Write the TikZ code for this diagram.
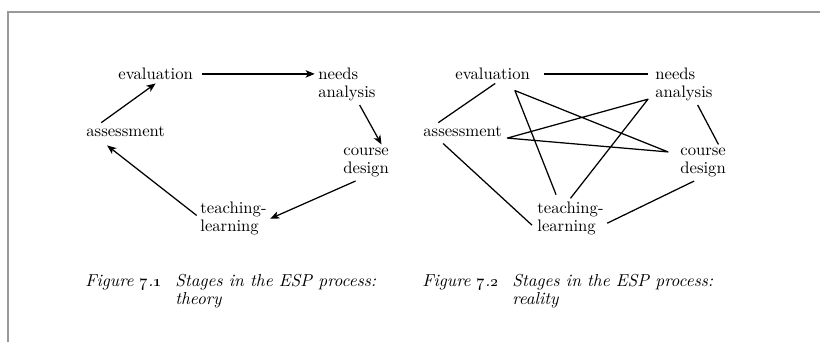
\documentclass[tikz,border=0pt]{standalone}
\usetikzlibrary{arrows.meta,calc}

\begin{document}
\begin{tikzpicture}
[x=0.6pt,y=-0.6pt,
  stageDecorate/.style={anchor=base west,align=left,inner sep=2pt,font=\fontsize{10}{11}\selectfont},
  arrowDecorate/.style={-{Stealth[length=5.5pt,width=4.5pt,inset=1.5pt]},line width=0.75pt},
  lineDecorate/.style={-,line width=0.75pt,line join=round},
  captionDecorate/.style={anchor=base west,inner sep=0pt,font=\fontsize{10.4}{10.5}\selectfont\itshape},
  frameDecorate/.style={draw=black!40,line width=0.9pt}]
\useasboundingbox (0,0) rectangle (820,342);
%% page rule
\draw[frameDecorate] (8,342) -- (8,12) -- (820,12);
%% stages: L = theory, R = reality (y is the last baseline)
\foreach \side/\dx in {L/0, R/337}
{
  \foreach \nodename/\x/\y/\stage in {
    ev/114.7/79.6/evaluation, na/314.7/97.9/needs\\analysis, as/82.7/136.6/assessment,
    cd/339.7/173.9/course\\design, tl/196.7/231.9/teaching-\\learning}
  {
    \node (\nodename\side) at (\x+\dx,\y) [stageDecorate] {\stage};
  }
}
%% theory: one way round
\draw[arrowDecorate,shorten <=3.5pt] (evL.east) -- (evL.east -| naL.west);
\draw[arrowDecorate] (naL.-58) -- (cdL.50);
\draw[arrowDecorate] (cdL.-120) -- (tlL.east);
\draw[arrowDecorate] (tlL.175) -- ($(asL.south)+(-18.5,5)$);
\draw[arrowDecorate] (asL.160) -- (evL.south);
%% reality: every stage with every other
\draw[lineDecorate,shorten <=6.5pt,shorten >=2.5pt] (evR.east) -- (evR.east -| naR.west);
\draw[lineDecorate] (evR.-75) -- (asR.160);
\draw[lineDecorate] ($(tlR.north)+(-14.4,-3.7)$) -- ($(evR.south)+(22.3,7.1)$)
  -- ($(cdR.west)+(-8.7,-10.8)$) -- ($(asR.east)+(1.7,6.5)$)
  -- ($(naR.west)+(-3.7,14.5)$) -- (tlR.north);
\draw[lineDecorate] ($(asR.south)+(-19.5,3.1)$) -- ($(tlR.west)+(-1.7,6.5)$);
\draw[lineDecorate] (naR.-56) -- (cdR.50);
\draw[lineDecorate] (cdR.-116) -- (tlR.-7);
%% captions
\node (figL) at (85,286.5) [captionDecorate] {Figure \oldstylenums{7}.\oldstylenums{1}};
\node (capL) at (175,286.5) [captionDecorate]
  {\begin{tabular}[t]{@{}l@{}}Stages in the ESP process:\\ theory\end{tabular}};
\node (figR) at (422,286.5) [captionDecorate] {Figure \oldstylenums{7}.\oldstylenums{2}};
\node (capR) at (512,286.5) [captionDecorate]
  {\begin{tabular}[t]{@{}l@{}}Stages in the ESP process:\\ reality\end{tabular}};
\end{tikzpicture}
\end{document}
